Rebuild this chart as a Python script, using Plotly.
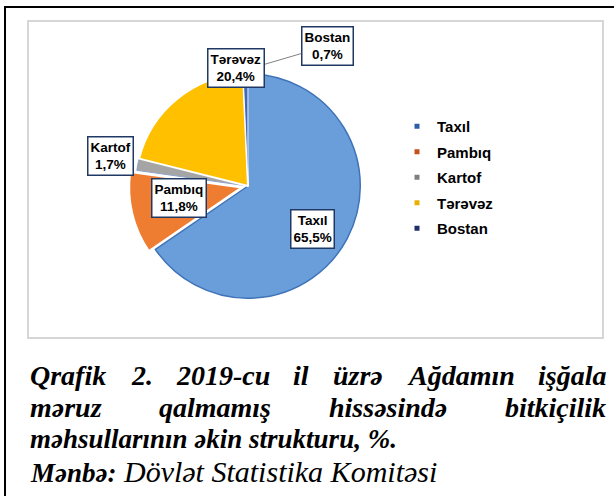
import plotly.graph_objects as go

# ---- data ----
categories = ["Taxıl", "Pambıq", "Kartof", "Tərəvəz", "Bostan"]
shares = [65.5, 11.8, 1.7, 20.4, 0.7]
slice_colors = ["#6A9EDB", "#EE7D31", "#A5A5A5", "#FFC000", "#3F6BBF"]
legend_colors = ["#2E5DA8", "#C4501B", "#7F7F7F", "#E8B000", "#1F2F6B"]
caption_line1 = "Qrafik 2. 2019-cu il üzrə Ağdamın işğala"
caption_line2 = "məruz qalmamış hissəsində bitkiçilik"
caption_line3 = "məhsullarının əkin strukturu, %."
source_label = "Mənbə:"
source_text = "Dövlət Statistika Komitəsi"

W, H = 614, 496


def px(x):
    return x / W


def py(y):
    return 1 - y / H


# approximate Times Bold Italic advance widths (per 1000 em)
BI = {' ': 250, '%': 833, ',': 250, '-': 333, '.': 250, ':': 333,
      'A': 667, 'M': 889, 'Q': 722,
      'a': 500, 'b': 500, 'c': 444, 'd': 500, 'e': 444, 'f': 333, 'g': 500,
      'h': 556, 'i': 278, 'k': 500, 'l': 278, 'm': 778, 'n': 556, 'o': 500,
      'q': 500, 'r': 389, 's': 389, 't': 278, 'u': 556, 'v': 444, 'z': 389,
      'ə': 444, 'ğ': 500, 'ş': 389, 'ı': 278, 'ü': 556, 'ç': 444}


def word_w(word, size):
    return sum(BI.get(ch, 500) for ch in word) / 1000 * size


CAP_SIZE = 28
CAP_FONT = "Liberation Serif, Times New Roman, serif"
LEFT, RIGHT = 28, 604

fig = go.Figure()

R = 119
fig.add_trace(go.Pie(
    labels=categories,
    values=shares,
    sort=False,
    direction="clockwise",
    rotation=0,
    pull=[0, 0.06, 0, 0, 0],
    marker=dict(colors=slice_colors,
                line=dict(color=["#3F74B8", "white", "#8FA3C8", "white", "white"],
                          width=[1.5, 2, 1, 2, 1])),
    textinfo="none",
    hoverinfo="label+value",
    showlegend=False,
    domain=dict(x=[px(248 - R), px(248 + R)], y=[py(186 + R), py(186 - R)]),
))

# legend entries (small square markers)
for cat, col in zip(categories, legend_colors):
    fig.add_trace(go.Scatter(
        x=[None], y=[None], mode="markers", name=cat, legendgroup=cat,
        marker=dict(symbol="square", size=5, color=col),
    ))

label_pos = {"Taxıl": (312, 229), "Pambıq": (179, 198), "Kartof": (110, 156),
             "Bostan": (327, 46), "Tərəvəz": (236, 68)}

annotations = []
order = ["Taxıl", "Pambıq", "Kartof", "Bostan", "Tərəvəz"]
for cat in order:
    v = shares[categories.index(cat)]
    txt = f"<b>{cat}</b><br><b>{v:.1f}%</b>".replace(".", ",")
    x, y = label_pos[cat]
    a = dict(text=txt, xref="paper", yref="paper", font=dict(family="Arial, Liberation Sans, sans-serif",
             size=13.5, color="black"), bgcolor="white", bordercolor="#1F3864", borderwidth=1.5,
             borderpad=2, align="center")
    if cat == "Bostan":
        tipx, tipy = 252, 68
        a.update(x=px(tipx), y=py(tipy), showarrow=True, arrowhead=0, arrowwidth=1,
                 arrowcolor="#808080", ax=x - tipx, ay=y - tipy)
    else:
        a.update(x=px(x), y=py(y), showarrow=False, xanchor="center", yanchor="middle")
    annotations.append(a)


def justified(line, ycenter):
    words = line.split(" ")
    widths = [word_w(w, CAP_SIZE) for w in words]
    gap = (RIGHT - LEFT - sum(widths)) / (len(words) - 1)
    xcur = LEFT
    for w, wd in zip(words, widths):
        annotations.append(dict(text=f"<b><i>{w}</i></b>", x=px(xcur), y=py(ycenter), xref="paper",
                                yref="paper", xanchor="left", yanchor="middle", showarrow=False,
                                font=dict(family=CAP_FONT, size=CAP_SIZE, color="black")))
        xcur += wd + gap


justified(caption_line1, 375)
justified(caption_line2, 407)
annotations.append(dict(text=f"<b><i>{caption_line3}</i></b>", x=px(LEFT), y=py(439), xref="paper",
                        yref="paper", xanchor="left", yanchor="middle", showarrow=False,
                        font=dict(family=CAP_FONT, size=27, color="black")))
annotations.append(dict(text=f"<b><i>{source_label}</i></b><i><span style='font-size:30px'> {source_text}</span></i>",
                        x=px(LEFT), y=py(471),
                        xref="paper", yref="paper", xanchor="left", yanchor="middle", showarrow=False,
                        font=dict(family=CAP_FONT, size=27, color="black")))

shapes = [
    # outer black frame
    dict(type="rect", xref="paper", yref="paper", x0=px(5), x1=px(640), y0=py(7), y1=py(520),
         line=dict(color="black", width=2), fillcolor="rgba(0,0,0,0)", layer="below"),
    # inner chart border
    dict(type="rect", xref="paper", yref="paper", x0=px(28), x1=px(603), y0=py(21), y1=py(338),
         line=dict(color="#D6D6D6", width=2), fillcolor="rgba(0,0,0,0)", layer="below"),
]

fig.update_layout(
    width=W, height=H,
    margin=dict(l=0, r=0, t=0, b=0),
    paper_bgcolor="white", plot_bgcolor="white",
    xaxis=dict(visible=False), yaxis=dict(visible=False),
    showlegend=True,
    legend=dict(x=px(397), y=py(110), xanchor="left", yanchor="top",
                font=dict(family="Arial, Liberation Sans, sans-serif", size=15, color="black", weight="bold"),
                traceorder="grouped", tracegroupgap=3, bgcolor="rgba(0,0,0,0)", itemsizing="trace"),
    annotations=annotations,
    shapes=shapes,
)

fig.write_html("out.html", config={"displayModeBar": False},
               post_script="document.body.style.margin='0';document.body.style.overflow='hidden';")
